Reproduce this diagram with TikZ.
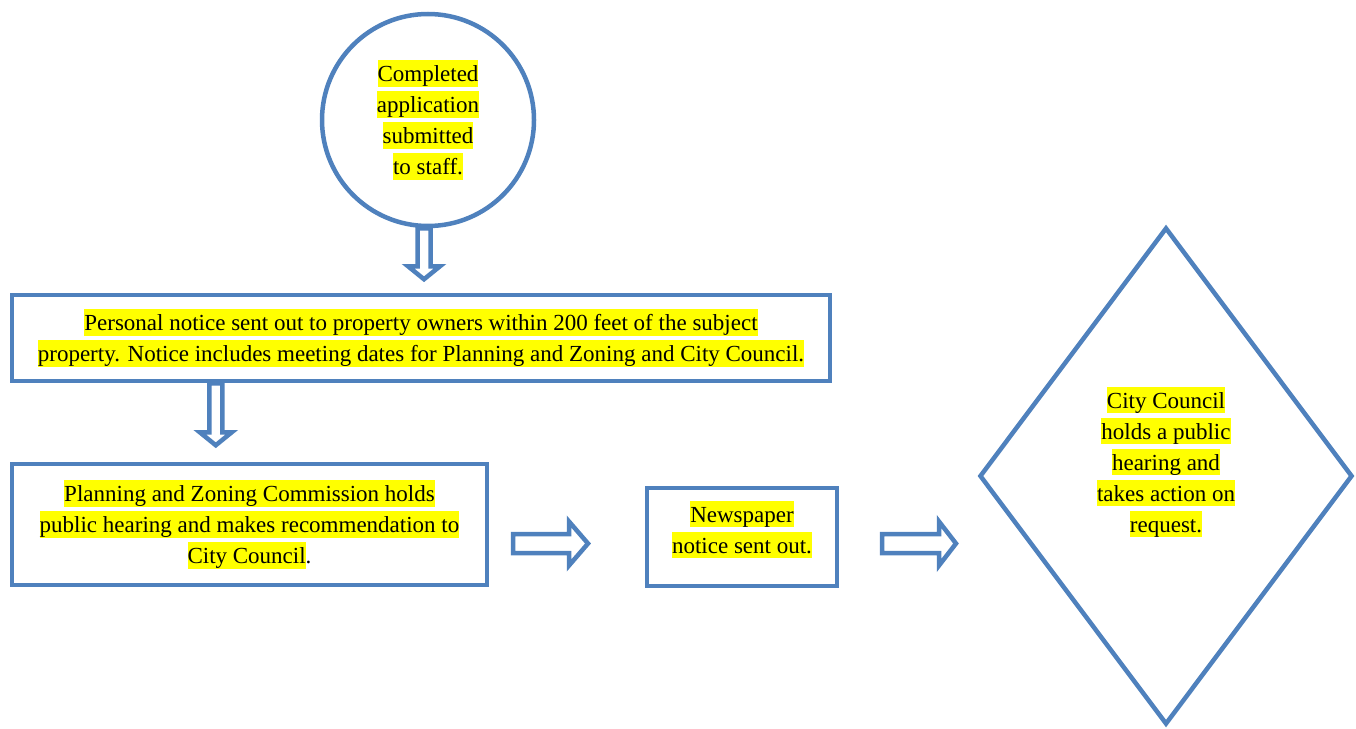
\documentclass[tikz,border=0pt]{standalone}
\usepackage{fontspec}
\setmainfont{Liberation Serif}
\usetikzlibrary{shapes.geometric}
\definecolor{flowblue}{RGB}{79,129,189}
\definecolor{marker}{RGB}{255,255,0}
\newcommand{\marked}[1]{{\setlength{\fboxsep}{0pt}\colorbox{marker}{\rule[-0.23em]{0pt}{1.16em}#1}}}
\begin{document}
\begin{tikzpicture}[x=1pt,y=-1pt]
            \tikzset{outline/.style={draw=flowblue, line width=4.5pt, fill=white}};
            \tikzset{hollowarrow/.style={draw=flowblue, line width=4.5pt, fill=white, line join=miter}};
            \tikzset{copy/.style={align=center, font=\fontsize{23}{31}\selectfont, inner sep=0pt}};

            \useasboundingbox (0,0) rectangle (1356,728);

            \node[outline, circle, minimum size=212pt, copy] (submitted) at (428,120)
                {\marked{Completed}\\\marked{application}\\\marked{submitted}\\\marked{to staff.}};

            \node[outline, minimum width=818pt, minimum height=86pt, copy] (notice) at (421,338)
                {\marked{Personal notice sent out to property owners within 200 feet of the subject}\\
                 \marked{property. Notice includes meeting dates for Planning and Zoning and City Council.}};

            \node[outline, minimum width=475pt, minimum height=121pt, copy] (commission) at (249.5,524.5)
                {\marked{Planning and Zoning Commission holds}\\
                 \marked{public hearing and makes recommendation to}\\
                 \marked{City Council}.};

            \node[outline, minimum width=190pt, minimum height=98pt] (newspaper) at (742,537) {};
            \node[copy] (newspapernote) at (742,529.5)
                {\marked{Newspaper}\\\marked{notice sent out.}};

            \node[outline, diamond, minimum width=373pt, minimum height=497pt] (council) at (1166,476) {};
            \node[copy] (councilnote) at (1166,462)
                {\marked{City Council}\\\marked{holds a public}\\\marked{hearing and}\\\marked{takes action on}\\\marked{request.}};

            \coordinate (tail3) at (513,534);
            \coordinate (tail4) at (882,534);

            \draw[hollowarrow] (submitted.south) ++(-10.5,0) -- ++(0,38) -- ++(-9.5,0) -- ++(16,13)
                -- ++(16,-13) -- ++(-9.5,0) -- ++(0,-38) -- cycle;

            \draw[hollowarrow] (notice.south west) ++(199.5,0) -- ++(0,49) -- ++(-9.5,0) -- ++(16,13)
                -- ++(16,-13) -- ++(-9.5,0) -- ++(0,-49) -- cycle;

            \draw[hollowarrow] (tail3) -- ++(56,0) -- ++(0,-12.5) -- ++(19,22)
                -- ++(-19,22) -- ++(0,-12.5) -- ++(-56,0) -- cycle;

            \draw[hollowarrow] (tail4) -- ++(57,0) -- ++(0,-12.5) -- ++(17,22)
                -- ++(-17,22) -- ++(0,-12.5) -- ++(-57,0) -- cycle;
\end{tikzpicture}
\end{document}
